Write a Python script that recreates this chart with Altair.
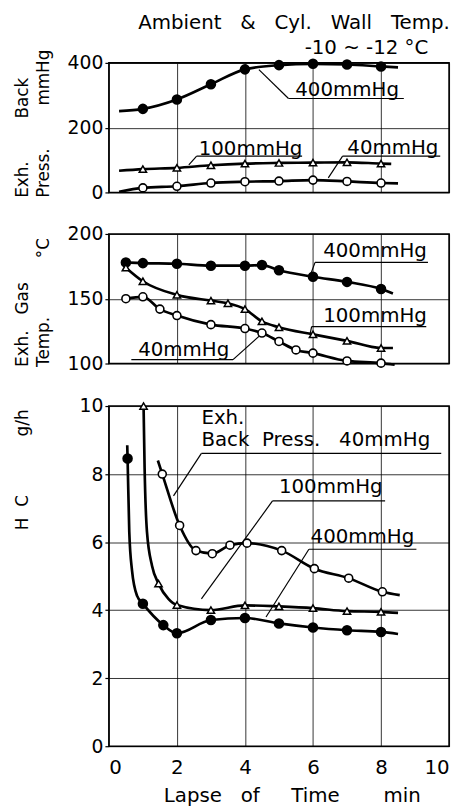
import altair as alt
import pandas as pd

FONT = "DejaVu Sans"
NB = "\u00a0"

# ---------------- Panel 1: Exh. back pressure (mmHg) ----------------
bp_t = [1, 2, 3, 4, 5, 6, 7, 8]
bp400_v = [258, 287, 334, 380, 393, 397, 395, 389]
bp100_v = [72, 76, 84, 89, 91, 92, 93, 89]
bp40_v = [14, 19, 29, 33, 35, 38, 34, 29]
# curve ends (line only)
bp400_ends_t = [0.3, 8.5]
bp400_ends_v = [251, 386]
bp100_ends_t = [0.3, 8.3]
bp100_ends_v = [67, 88]
bp40_ends_t = [0.3, 8.5]
bp40_ends_v = [2, 28]

bp_lab_text = ["400mmHg", "100mmHg", "40mmHg"]
bp_lab_t = [5.48, 2.64, 7.01]
bp_lab_v = [299, 115, 118]
bp_lead_t1 = [4.41, 5.28, 2.35, 2.58, 6.45, 6.87]
bp_lead_v1 = [379, 290, 85, 112, 45, 112]
bp_lead_t2 = [5.28, 8.67, 2.58, 5.68, 6.87, 9.74]
bp_lead_v2 = [290, 290, 112, 112, 112, 112]

# condition note above the first panel
note_text = ["-10 ~ -12 °C"]
note_t = [9.39]
note_v = [427]

# ---------------- Panel 2: Exh. gas temperature (deg C) ----------------
gt400_t = [0.5, 1, 2, 3, 4, 4.5, 5, 6, 7, 8]
gt400_v = [178, 177.5, 177, 175.5, 175.5, 176, 172, 167, 163, 157.5]
gt100_t = [0.5, 1, 2, 3, 3.5, 4, 4.5, 5, 6, 7, 8]
gt100_v = [174, 163.5, 153, 148.5, 146.5, 142, 132.5, 128, 122.5, 117.5, 112]
gt40_t = [0.5, 1, 1.5, 2, 3, 4, 4.5, 5, 5.5, 6, 7, 8]
gt40_v = [150, 151.5, 142, 137, 130, 127, 123.5, 117, 110.5, 108, 102, 100.3]
gt400_ends_t = [8.35]
gt400_ends_v = [154]
gt100_ends_t = [8.35]
gt100_ends_v = [112]
gt40_ends_t = [8.4]
gt40_ends_v = [99]

gt_lab_text = ["400mmHg", "100mmHg", "40mmHg"]
gt_lab_t = [6.3, 6.3, 0.86]
gt_lab_v = [181.9, 132.3, 105.6]
gt_lead_t1 = [5.92, 6.06, 5.92, 5.96, 0.66, 3.65]
gt_lead_v1 = [168, 178.1, 123.5, 128.5, 103, 103]
gt_lead_t2 = [6.06, 9.38, 5.96, 9.33, 3.65, 4.52]
gt_lead_v2 = [178.1, 178.1, 128.5, 128.5, 103, 123.5]

# ---------------- Panel 3: HC (g/h) ----------------
hc400_t = [0.55, 1.0, 1.6, 2.0, 3.0, 4.0, 5.0, 6.0, 7.0, 8.0]
hc400_v = [8.46, 4.19, 3.56, 3.32, 3.71, 3.77, 3.61, 3.49, 3.41, 3.36]
hc100_t = [1.02, 1.46, 2.0, 3.0, 4.0, 5.0, 6.0, 7.0, 8.0]
hc100_v = [10.0, 4.78, 4.15, 4.0, 4.14, 4.11, 4.06, 3.97, 3.95]
hc40_t = [1.57, 2.08, 2.56, 3.04, 3.56, 4.06, 5.08, 6.04, 7.05, 8.04]
hc40_v = [8.0, 6.49, 5.75, 5.66, 5.91, 5.97, 5.75, 5.22, 4.94, 4.54]
# extra curve points (line only)
hc400_curve_t = [0.54, 0.6, 0.68, 0.83, 8.5]
hc400_curve_v = [8.85, 6.3, 5.17, 4.42, 3.3]
hc100_curve_t = [1.05, 1.12, 1.27, 1.75, 8.5]
hc100_curve_v = [8.2, 6.3, 5.3, 4.33, 3.92]
hc40_curve_t = [1.44, 8.55]
hc40_curve_v = [8.4, 4.44]

hc_lab_text = ["Exh.\nBack" + NB * 2 + "Press." + NB * 3 + "40mmHg", "100mmHg", "400mmHg"]
hc_lab_t = [2.72, 5.0, 5.93]
hc_lab_v = [9.47, 7.45, 5.97]
hc_lead_t1 = [1.9, 2.72, 2.72, 4.81, 4.62, 5.88]
hc_lead_v1 = [7.36, 8.61, 4.33, 7.21, 3.8, 5.79]
hc_lead_t2 = [2.72, 9.77, 4.81, 8.12, 5.88, 9.04]
hc_lead_v2 = [8.61, 8.61, 7.21, 7.21, 5.79, 5.79]

x_ticks = [0, 2, 4, 6, 8, 10]


def series_frames(specs):
    pts, lines = [], []
    for name, mt, mv, et, ev in specs:
        for t, v in zip(mt, mv):
            pts.append({"t": t, "v": v, "s": name})
            lines.append({"t": t, "v": v, "s": name})
        for t, v in zip(et, ev):
            lines.append({"t": t, "v": v, "s": name})
    ldf = pd.DataFrame(lines).sort_values(["s", "t"])
    return pd.DataFrame(pts), ldf


def panel(specs, lab_text, lab_t, lab_v, l_t1, l_v1, l_t2, l_v2,
          ydom, yvals, height, bottom, ytitle, title_y, note=None):
    pts, lines = series_frames(specs)
    labs = pd.DataFrame({"text": lab_text, "t": lab_t, "v": lab_v})
    leads = pd.DataFrame({"t1": l_t1, "v1": l_v1, "t2": l_t2, "v2": l_v2})

    if bottom:
        xaxis = alt.Axis(values=x_ticks, grid=True, ticks=False, tickSize=0,
                         domain=False, labelFontSize=20, labelPadding=12,
                         title="Lapse" + NB * 3 + "of" + NB * 5 + "Time" + NB * 7 + "min",
                         titleFontSize=20, titleX=55, titleY=56, titleAlign="left",
                         titleBaseline="alphabetic")
    else:
        xaxis = alt.Axis(values=x_ticks, grid=True, ticks=False, labels=False,
                         domain=False, title=None)
    yaxis = alt.Axis(values=yvals, grid=True, tickSize=4, labelPadding=2,
                     domain=False, labelFontSize=19, title=ytitle,
                     titleFontSize=17, titleAngle=270, titleAlign="left",
                     titleBaseline="bottom", titleX=-78, titleY=title_y,
                     titleLineHeight=21)
    xs = alt.Scale(domain=[0, 10], nice=False, zero=False)
    ys = alt.Scale(domain=ydom, nice=False, zero=False)

    base_x = alt.X("t:Q", scale=xs, axis=xaxis)
    base_y = alt.Y("v:Q", scale=ys, axis=yaxis)

    line = alt.Chart(lines).mark_line(
        interpolate="monotone", color="black", strokeWidth=2.7
    ).encode(x=base_x, y=base_y, detail="s:N", order="t:Q")

    filled = alt.Chart(pts).transform_filter(alt.datum.s == "400").mark_point(
        shape="circle", filled=True, fill="black", stroke="black", size=75, opacity=1
    ).encode(x=base_x, y=base_y)
    tri = alt.Chart(pts).transform_filter(alt.datum.s == "100").mark_point(
        shape="triangle-up", filled=True, fill="white", stroke="black",
        strokeWidth=1.5, size=55, opacity=1
    ).encode(x=base_x, y=base_y)
    opn = alt.Chart(pts).transform_filter(alt.datum.s == "40").mark_point(
        shape="circle", filled=True, fill="white", stroke="black",
        strokeWidth=1.6, size=65, opacity=1
    ).encode(x=base_x, y=base_y)

    rules = alt.Chart(leads).mark_rule(color="black", strokeWidth=1.2).encode(
        x=alt.X("t1:Q", scale=xs), y=alt.Y("v1:Q", scale=ys),
        x2="t2:Q", y2="v2:Q")
    texts = alt.Chart(labs).mark_text(
        align="left", baseline="alphabetic", font=FONT, fontSize=20, color="black",
        lineBreak="\n", lineHeight=22
    ).encode(x=alt.X("t:Q", scale=xs), y=alt.Y("v:Q", scale=ys), text="text:N")

    layers = [line, rules, texts, filled, tri, opn]
    if note is not None:
        nd = pd.DataFrame({"text": note[0], "t": note[1], "v": note[2]})
        layers.append(alt.Chart(nd).mark_text(
            align="right", baseline="alphabetic", font=FONT, fontSize=20, color="black"
        ).encode(x=alt.X("t:Q", scale=xs), y=alt.Y("v:Q", scale=ys), text="text:N"))

    return alt.layer(*layers).properties(width=344, height=height)


p1 = panel(
    [("400", bp_t, bp400_v, bp400_ends_t, bp400_ends_v),
     ("100", bp_t, bp100_v, bp100_ends_t, bp100_ends_v),
     ("40", bp_t, bp40_v, bp40_ends_t, bp40_ends_v)],
    bp_lab_text, bp_lab_t, bp_lab_v, bp_lead_t1, bp_lead_v1, bp_lead_t2, bp_lead_v2,
    [0, 400], [0, 200, 400], 131, False,
    ["Exh." + NB * 8 + "Back", "Press." + NB * 8 + "mmHg"], 136,
    note=(note_text, note_t, note_v))

p2 = panel(
    [("400", gt400_t, gt400_v, gt400_ends_t, gt400_ends_v),
     ("100", gt100_t, gt100_v, gt100_ends_t, gt100_ends_v),
     ("40", gt40_t, gt40_v, gt40_ends_t, gt40_ends_v)],
    gt_lab_text, gt_lab_t, gt_lab_v, gt_lead_t1, gt_lead_v1, gt_lead_t2, gt_lead_v2,
    [100, 200], [100, 150, 200], 131, False,
    ["Exh." + NB * 3 + "Gas", "Temp." + NB * 11 + "°C"], 134)

p3 = panel(
    [("400", hc400_t, hc400_v, hc400_curve_t, hc400_curve_v),
     ("100", hc100_t, hc100_v, hc100_curve_t, hc100_curve_v),
     ("40", hc40_t, hc40_v, hc40_curve_t, hc40_curve_v)],
    hc_lab_text, hc_lab_t, hc_lab_v, hc_lead_t1, hc_lead_v1, hc_lead_t2, hc_lead_v2,
    [0, 10], [0, 2, 4, 6, 8, 10], 344, True,
    "H" + NB * 2 + "C" + NB * 11 + "g/h", 125)

upper = alt.vconcat(p1, p2, spacing=21)

chart = alt.vconcat(upper, p3, spacing=22).properties(
    title=alt.TitleParams(
        text="Ambient" + NB * 3 + "&" + NB * 3 + "Cyl." + NB * 3 + "Wall" + NB * 3 + "Temp.",
        anchor="end", font=FONT, fontSize=20, fontWeight="normal", color="black",
        offset=5),
    padding={"left": 5, "top": 0, "right": 5, "bottom": 0},
    background="white",
).configure_view(
    stroke="black", strokeWidth=1.6
).configure_axis(
    labelFont=FONT, titleFont=FONT, labelColor="black", titleColor="black",
    titleFontWeight="normal", gridColor="black", gridWidth=0.8, gridOpacity=1,
    tickColor="black", tickWidth=1.2
)

chart.save("out.html", embed_options={"renderer": "svg", "actions": False})
